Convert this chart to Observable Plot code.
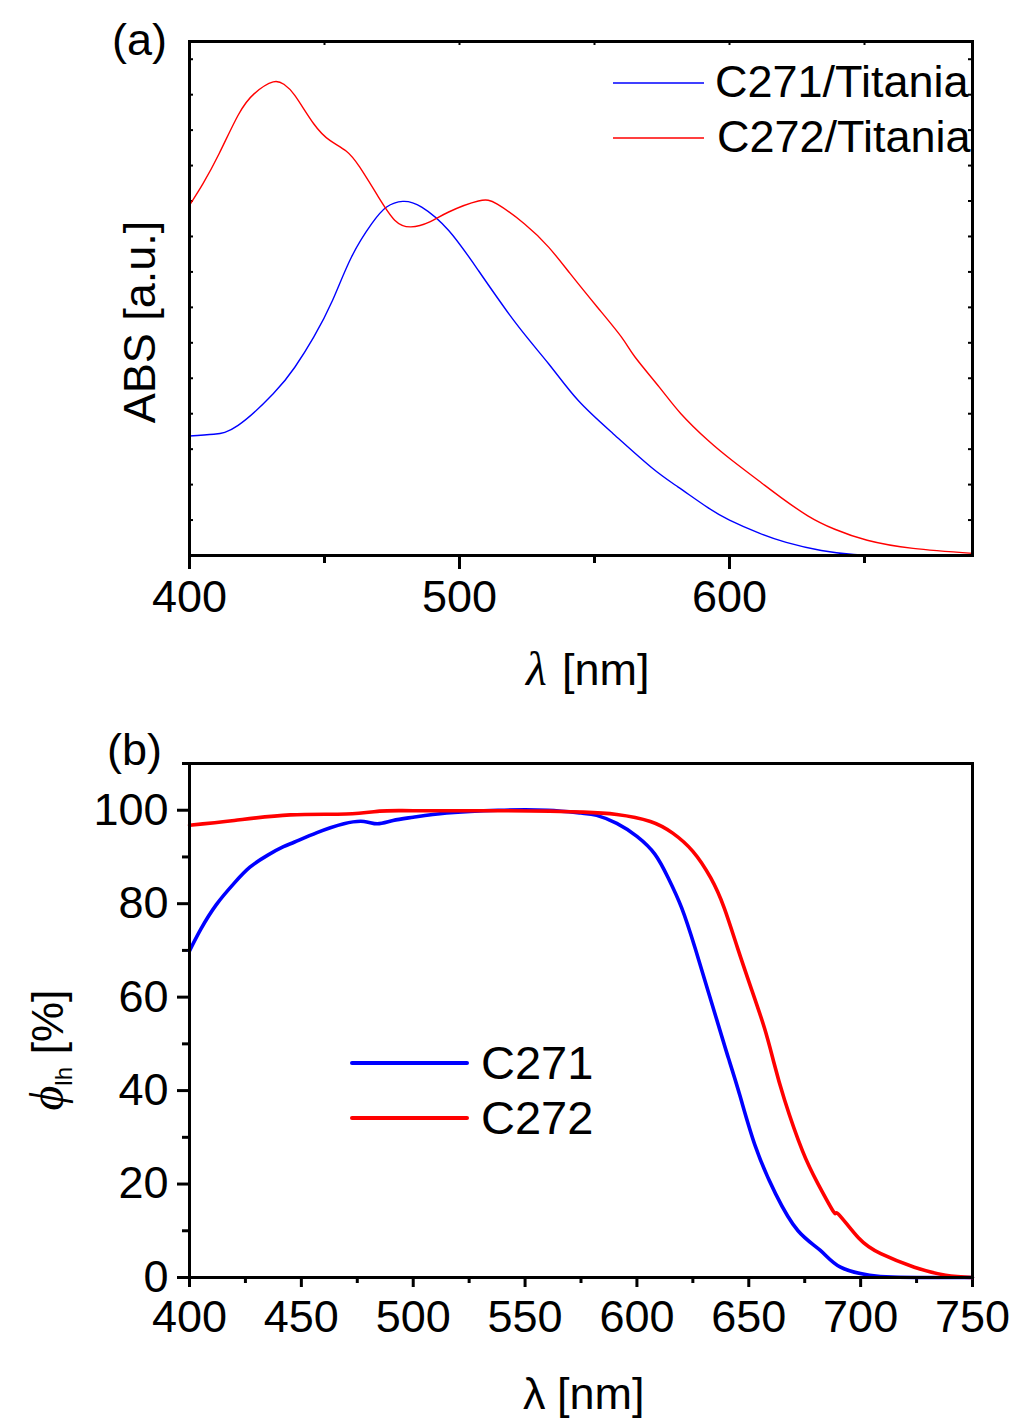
<!DOCTYPE html>
<html><head><meta charset="utf-8">
<script src="https://cdn.jsdelivr.net/npm/d3@7"></script>
<script src="https://cdn.jsdelivr.net/npm/@observablehq/plot@0.6"></script>
<style>
body{margin:0;background:#fff;}
#chart{width:1016px;}
#chart svg{display:block;}
</style></head><body><div id="chart"></div>
<script>
// ---- Panel (a): absorption spectra (arbitrary units) ----
const absWl271 = [400, 409, 418, 431, 439, 446, 453, 460, 467.5, 473, 479, 486, 496, 507, 521, 533, 544, 557, 571, 581, 592, 600, 611, 621, 634, 646, 660, 690];
const abs271   = [0.337, 0.342, 0.367, 0.456, 0.531, 0.616, 0.72, 0.842, 0.936, 0.983, 0.999, 0.983, 0.917, 0.804, 0.654, 0.541, 0.437, 0.343, 0.249, 0.193, 0.135, 0.1, 0.063, 0.037, 0.014, 0.003, 0, 0];
const absWl272 = [400, 405, 411, 418, 424, 431, 435, 439, 446, 452, 458, 463, 470, 476, 482, 489, 496, 507, 514, 524, 533, 541, 551, 560, 565, 574, 582, 592, 601, 612, 619, 629, 639, 651, 668, 690];
const abs272   = [0.988, 1.049, 1.134, 1.242, 1.303, 1.336, 1.329, 1.298, 1.218, 1.171, 1.141, 1.096, 1.011, 0.946, 0.927, 0.941, 0.969, 1.0, 0.991, 0.936, 0.87, 0.795, 0.701, 0.616, 0.56, 0.475, 0.4, 0.325, 0.268, 0.204, 0.164, 0.112, 0.074, 0.043, 0.02, 0.006];

// ---- Panel (b): light harvesting efficiency [%] ----
const lheWl271 = [400, 405, 412, 420, 427, 435, 442, 447, 457, 469, 478, 484, 491, 500, 515, 538, 560, 575, 582, 591, 600, 608, 614, 620, 626, 632, 638, 641, 646, 653, 662, 672, 682, 691, 704, 714, 730, 750];
const lhe271   = [69.9, 74.5, 79.8, 84.4, 87.8, 90.4, 92.2, 93.2, 95.2, 97.1, 97.6, 97.1, 97.8, 98.5, 99.4, 100, 100, 99.4, 98.9, 97.2, 94.4, 90.6, 85.5, 79.1, 70.5, 61.0, 51.5, 46.8, 39.0, 28.0, 17.9, 10.0, 5.8, 2.2, 0.5, 0.1, 0, 0];
const lheWl272 = [400, 420, 445, 470, 485, 500, 540, 561, 576, 591, 606, 616, 625, 633, 639, 645, 651, 657, 661, 666, 674, 681, 688, 690, 699, 709, 724, 738, 750];
const lhe272   = [96.8, 97.8, 99.0, 99.2, 99.8, 99.9, 99.9, 99.8, 99.6, 99.1, 97.6, 95.1, 91.2, 85.5, 79.1, 70.5, 62.0, 53.4, 46.4, 38.0, 27.1, 20.0, 14.0, 13.6, 8.5, 5.1, 2.2, 0.5, 0];

const seriesA = ["C271/Titania", "C272/Titania"];
const seriesB = ["C271", "C272"];
const seriesColors = ["#0000ff", "#ff0000"];

const xTicksA = [400, 500, 600];
const xMinorA = [450, 550, 650];
const xTopA = [450, 500, 550, 600, 650];
const yTicksA = d3.range(1, 15).map(i => i / 10);

const xTicksB = [400, 450, 500, 550, 600, 650, 700, 750];
const xMinorB = [425, 475, 525, 575, 625, 675, 725];
const yTicksB = [0, 20, 40, 60, 80, 100];
const yMinorB = [10, 30, 50, 70, 90, 110];

const rowsA = [
  ...absWl271.map((w, i) => ({wl: w, v: abs271[i], s: seriesA[0]})),
  ...absWl272.map((w, i) => ({wl: w, v: abs272[i], s: seriesA[1]}))
];
const rowsB = [
  ...lheWl271.map((w, i) => ({wl: w, v: lhe271[i], s: seriesB[0]})),
  ...lheWl272.map((w, i) => ({wl: w, v: lhe272[i], s: seriesB[1]}))
];

const SANS = "'Liberation Sans', Arial, sans-serif";
const SERIF = "'Liberation Serif', 'Times New Roman', serif";
const W = 1016, ML = 189, MR = 44;

// ---------- Panel A ----------
const hA = 700, mtA = 41, mbA = 145;
const innerHA = hA - mtA - mbA, innerW = W - ML - MR;
const plotA = Plot.plot({
  width: W, height: hA, marginTop: mtA, marginBottom: mbA, marginLeft: ML, marginRight: MR,
  style: {fontFamily: SANS, fontSize: "45px", color: "#000", background: "#fff", overflow: "visible"},
  x: {domain: [400, 690], axis: null},
  y: {domain: [0, 1.45], axis: null},
  color: {domain: seriesA, range: seriesColors},
  marks: [
    Plot.axisX({ticks: xTicksA, tickSize: 14, tickPadding: 11, strokeWidth: 3, fontSize: 45, label: null}),
    Plot.axisX({ticks: xMinorA, tickSize: 8, strokeWidth: 3, fill: "none", label: null}),
    Plot.tickX(xTopA, {x: d => d, insetBottom: innerHA - 4, strokeWidth: 2}),
    Plot.tickY(yTicksA, {y: d => d, insetRight: innerW - 4, strokeWidth: 2}),
    Plot.tickY(yTicksA, {y: d => d, insetLeft: innerW - 4, strokeWidth: 2}),
    Plot.line(rowsA, {x: "wl", y: "v", stroke: "s", curve: "natural", strokeWidth: 1.4}),
    Plot.frame({strokeWidth: 3})
  ]
});

// ---------- Panel B ----------
const hB = 721, mtB = 63, mbB = 144;
const plotB = Plot.plot({
  width: W, height: hB, marginTop: mtB, marginBottom: mbB, marginLeft: ML, marginRight: MR,
  style: {fontFamily: SANS, fontSize: "45px", color: "#000", background: "#fff", overflow: "visible"},
  x: {domain: [400, 750], axis: null},
  y: {domain: [0, 110], axis: null},
  color: {domain: seriesB, range: seriesColors},
  marks: [
    Plot.axisX({ticks: xTicksB, tickSize: 10, tickPadding: 13, strokeWidth: 3, fontSize: 45, label: null}),
    Plot.axisX({ticks: xMinorB, tickSize: 6, strokeWidth: 3, fill: "none", label: null}),
    Plot.axisY({ticks: yTicksB, tickSize: 12, tickPadding: 9, strokeWidth: 3, fontSize: 45, label: null}),
    Plot.axisY({ticks: yMinorB, tickSize: 7, strokeWidth: 3, fill: "none", label: null}),
    Plot.line(rowsB, {x: "wl", y: "v", stroke: "s", curve: "natural", strokeWidth: 3.6}),
    Plot.frame({strokeWidth: 3})
  ]
});

// ---------- Annotations ----------
function addText(svg, x, y, str, opts = {}) {
  const t = svg.append("text").attr("x", x).attr("y", y).text(str)
    .attr("font-family", opts.family || SANS).attr("font-size", opts.size || 45)
    .attr("fill", "#000").attr("text-anchor", opts.anchor || "start");
  if (opts.style) t.attr("font-style", opts.style);
  if (opts.transform) t.attr("transform", opts.transform);
  return t;
}

const sA = d3.select(plotA);
addText(sA, 112, 55, "(a)");
addText(sA, 0, 0, "ABS [a.u.]", {anchor: "middle", transform: "translate(155,322) rotate(-90)"});
addText(sA, 526, 685, "λ", {family: SERIF, style: "italic", size: 48});
addText(sA, 562, 685, "[nm]");
// legend (a)
seriesA.forEach((name, i) => {
  const y = 83 + i * 55;
  sA.append("line").attr("x1", 613).attr("x2", 704).attr("y1", y).attr("y2", y)
    .attr("stroke", seriesColors[i]).attr("stroke-width", 1.5);
  addText(sA, 715 + i * 2, y + 14, name);
});

const sB = d3.select(plotB);
addText(sB, 107, 65, "(b)");
addText(sB, 523, 709, "λ");
addText(sB, 557, 709, "[nm]");
{
  const t = sB.append("text").attr("transform", "translate(63,350) rotate(-90)")
    .attr("text-anchor", "middle").attr("font-family", SANS).attr("font-size", 45).attr("fill", "#000");
  t.append("tspan").attr("font-family", SERIF).attr("font-style", "italic").attr("font-size", 48).text("ϕ");
  t.append("tspan").attr("font-size", 24).attr("dy", 9).text("lh");
  t.append("tspan").attr("dy", -9).text(" [%]");
}
// legend (b)
seriesB.forEach((name, i) => {
  const y = 363 + i * 55;
  sB.append("line").attr("x1", 352).attr("x2", 467).attr("y1", y).attr("y2", y)
    .attr("stroke", seriesColors[i]).attr("stroke-width", 4).attr("stroke-linecap", "round");
  addText(sB, 481, y + 16, name, {size: 47});
});

document.getElementById("chart").append(plotA, plotB);
</script></body></html>
